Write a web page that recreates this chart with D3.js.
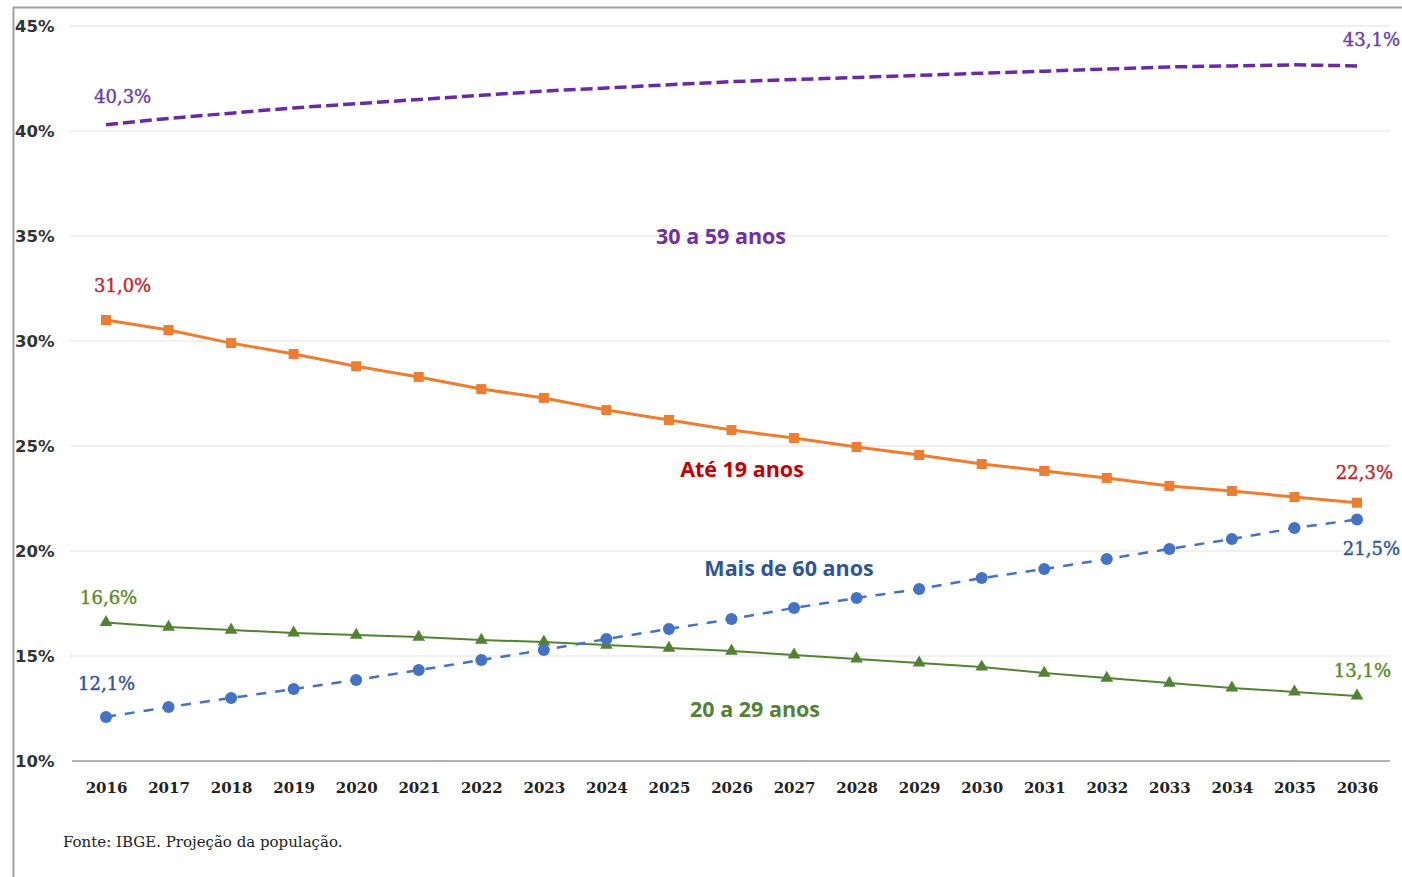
<!DOCTYPE html>
<html>
<head>
<meta charset="utf-8">
<script src="https://cdn.jsdelivr.net/npm/d3@7"></script>
<style>
  html, body { margin: 0; padding: 0; background: #fff; }
  svg { display: block; }
</style>
</head>
<body>
<svg id="chart" width="1402" height="877"></svg>
<script>
// Population share by age group, Brazil 2016–2036 (IBGE projection)
const years = [2016,2017,2018,2019,2020,2021,2022,2023,2024,2025,2026,2027,2028,2029,2030,2031,2032,2033,2034,2035,2036];
const yTicks = [10, 15, 20, 25, 30, 35, 40, 45];

const age30to59 = [40.3,40.6,40.85,41.1,41.3,41.5,41.7,41.9,42.05,42.2,42.35,42.45,42.55,42.65,42.75,42.85,42.95,43.05,43.1,43.15,43.1];
const ageUpTo19 = [31.0,30.52,29.9,29.38,28.8,28.29,27.71,27.29,26.71,26.24,25.76,25.38,24.95,24.57,24.14,23.81,23.48,23.1,22.86,22.57,22.3];
const age60plus = [12.1,12.57,13.0,13.43,13.86,14.33,14.81,15.29,15.81,16.29,16.76,17.29,17.76,18.19,18.71,19.14,19.62,20.1,20.57,21.1,21.5];
const age20to29 = [16.6,16.38,16.24,16.1,16.0,15.9,15.76,15.67,15.52,15.38,15.24,15.05,14.86,14.67,14.48,14.19,13.95,13.71,13.48,13.29,13.1];

const svg = d3.select("#chart");
const serif = "'DejaVu Serif', 'Liberation Serif', serif";
const sans = "'Open Sans', Lato, sans-serif";
const tickFont = "'DejaVu Sans', sans-serif";

const x = d3.scalePoint().domain(years).range([106, 1357]);
const y = d3.scaleLinear().domain([10, 45]).range([761, 26]);

// frame
svg.append("path")
  .attr("d", "M13.5,877 L13.5,7.5 L1402,7.5")
  .attr("fill", "none").attr("stroke", "#a0a0a0").attr("stroke-width", 2);

// horizontal gridlines
svg.append("g").selectAll("line").data(yTicks.filter(t => t > 10)).join("line")
  .attr("x1", 70).attr("x2", 1390)
  .attr("y1", d => y(d)).attr("y2", d => y(d))
  .attr("stroke", "#ececec").attr("stroke-width", 1.5);

// baseline
svg.append("line")
  .attr("x1", 72).attr("x2", 1390).attr("y1", y(10)).attr("y2", y(10))
  .attr("stroke", "#9a9a9a").attr("stroke-width", 1.5);

// y tick labels
svg.append("g").selectAll("text").data(yTicks).join("text")
  .attr("x", 15).attr("y", d => y(d)).attr("dy", "0.35em")
  .attr("font-family", tickFont).attr("font-weight", "bold").attr("font-size", 16.5)
  .attr("fill", "#333").text(d => d + "%");

// x tick labels via axis
const xAxis = svg.append("g").attr("transform", `translate(0,${y(10)})`)
  .call(d3.axisBottom(x).tickSize(0).tickPadding(21));
xAxis.select(".domain").remove();
xAxis.selectAll("text")
  .attr("font-family", serif).attr("font-weight", "bold").attr("font-size", 15)
  .attr("fill", "#222");

const line = d3.line().x((d, i) => x(years[i])).y(d => y(d));

// 30 a 59 anos — dashed purple, no markers
svg.append("path").datum(age30to59)
  .attr("d", line).attr("fill", "none")
  .attr("stroke", "#6a2aa6").attr("stroke-width", 3.5)
  .attr("stroke-dasharray", "12,5");

// Até 19 anos — orange with squares
svg.append("path").datum(ageUpTo19)
  .attr("d", line).attr("fill", "none")
  .attr("stroke", "#ED7D31").attr("stroke-width", 3);
svg.append("g").selectAll("rect").data(ageUpTo19).join("rect")
  .attr("x", (d, i) => x(years[i]) - 5).attr("y", d => y(d) - 5)
  .attr("width", 10).attr("height", 10).attr("fill", "#ED7D31");

// 20 a 29 anos — green with triangles
svg.append("path").datum(age20to29)
  .attr("d", line).attr("fill", "none")
  .attr("stroke", "#548235").attr("stroke-width", 2);
const tri = d3.symbol().type(d3.symbolTriangle).size(70);
svg.append("g").selectAll("path").data(age20to29).join("path")
  .attr("d", tri)
  .attr("transform", (d, i) => `translate(${x(years[i])},${y(d)})`)
  .attr("fill", "#548235");

// Mais de 60 anos — blue dashed with circles
svg.append("path").datum(age60plus)
  .attr("d", line).attr("fill", "none")
  .attr("stroke", "#4472C4").attr("stroke-width", 2.5)
  .attr("stroke-dasharray", "10,9");
svg.append("g").selectAll("circle").data(age60plus).join("circle")
  .attr("cx", (d, i) => x(years[i])).attr("cy", d => y(d))
  .attr("r", 6).attr("fill", "#4472C4");

// value labels at both ends
const fmt = v => v.toFixed(1).replace(".", ",") + "%";
const last = years.length - 1;
const valueLabels = [
  { v: age30to59[0], xp: 94, yp: 97, anchor: "start", color: "#6a3fa5" },
  { v: age30to59[last], xp: 1400, yp: 40, anchor: "end", color: "#6a3fa5" },
  { v: ageUpTo19[0], xp: 94, yp: 286, anchor: "start", color: "#c0282d" },
  { v: ageUpTo19[last], xp: 1393, yp: 473, anchor: "end", color: "#c0282d" },
  { v: age60plus[0], xp: 78, yp: 684, anchor: "start", color: "#2f5597" },
  { v: age60plus[last], xp: 1400, yp: 549, anchor: "end", color: "#2f5597" },
  { v: age20to29[0], xp: 80, yp: 598, anchor: "start", color: "#5a8a2a" },
  { v: age20to29[last], xp: 1391, yp: 671, anchor: "end", color: "#5a8a2a" }
];
svg.append("g").selectAll("text").data(valueLabels).join("text")
  .attr("x", d => d.xp).attr("y", d => d.yp).attr("dy", "0.35em")
  .attr("text-anchor", d => d.anchor)
  .attr("font-family", serif).attr("font-size", 18)
  .attr("fill", d => d.color)
  .attr("stroke", d => d.color).attr("stroke-width", 0.4)
  .text(d => fmt(d.v));

// series names
const seriesNames = [
  { t: "30 a 59 anos", xp: 721, yp: 236, color: "#7030A0" },
  { t: "Até 19 anos", xp: 742, yp: 469, color: "#C00000" },
  { t: "Mais de 60 anos", xp: 789, yp: 568, color: "#2F5597" },
  { t: "20 a 29 anos", xp: 755, yp: 709, color: "#548235" }
];
svg.append("g").selectAll("text").data(seriesNames).join("text")
  .attr("x", d => d.xp).attr("y", d => d.yp).attr("dy", "0.35em")
  .attr("text-anchor", "middle")
  .attr("font-family", sans).attr("font-weight", "bold").attr("font-size", 21.5)
  .attr("fill", d => d.color).text(d => d.t);

// source note
svg.append("text")
  .attr("x", 63).attr("y", 847)
  .attr("font-family", serif).attr("font-size", 15).attr("fill", "#222")
  .text("Fonte: IBGE. Projeção da população.");
</script>
</body>
</html>
